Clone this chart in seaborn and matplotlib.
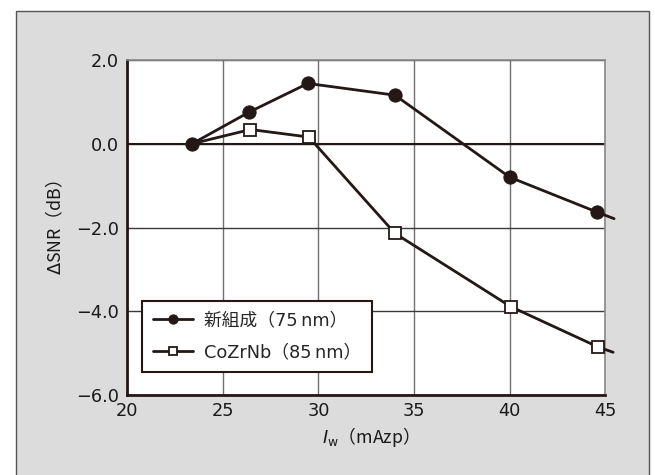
import numpy as np
import pandas as pd
import matplotlib
matplotlib.use('Agg')
import matplotlib.pyplot as plt
import seaborn as sns
from matplotlib.patches import Rectangle

sns.set_theme(style='white')
plt.rcParams['font.family'] = ['DejaVu Sans', 'Noto Sans CJK JP']
plt.rcParams['axes.unicode_minus'] = True
plt.rcParams['mathtext.fontset'] = 'dejavusans'

# data -----
iw_new = [23.4, 26.4, 29.45, 34.0, 40.0, 44.55]
snr_new = [0.0, 0.76, 1.44, 1.16, -0.80, -1.63]
iw_cozr = [23.4, 26.45, 29.5, 34.0, 40.05, 44.6]
snr_cozr = [0.0, 0.34, 0.16, -2.14, -3.89, -4.85]
# 線が軸の外まで少し伸びている部分
tail_new = (45.45, -1.79)
tail_cozr = (45.4, -4.98)

label_new = '新組成（75\u2009nm）'
label_cozr = 'CoZrNb（85\u2009nm）'

x_ticks = [20, 25, 30, 35, 40, 45]
y_ticks = [-6, -4, -2, 0, 2]
y_ticklabels = ['−6.0', '−4.0', '−2.0', '0.0', '2.0']

ink = '#231815'
fs = 12.8

df_new = pd.DataFrame({'Iw': iw_new + [tail_new[0]], 'dSNR': snr_new + [tail_new[1]]})
df_cozr = pd.DataFrame({'Iw': iw_cozr + [tail_cozr[0]], 'dSNR': snr_cozr + [tail_cozr[1]]})

fig = plt.figure(figsize=(6.55, 4.75), dpi=100)
fig.patch.set_facecolor('white')
fig.patches.append(Rectangle((0.024, -0.05), 0.9673, 1.0275, transform=fig.transFigure,
                             facecolor='#dcdcdc', edgecolor='#555555', lw=1.0, zorder=-10))
ax = fig.add_axes([0.1939, 0.1684, 0.7305, 0.7053])
ax.set_zorder(1)
ax.set_facecolor('white')

sns.lineplot(data=df_new, x='Iw', y='dSNR', ax=ax, color=ink, lw=2.0,
             marker='o', markersize=9.5, markeredgecolor=ink, markerfacecolor=ink,
             label=label_new, clip_on=False, zorder=4)
sns.lineplot(data=df_cozr, x='Iw', y='dSNR', ax=ax, color=ink, lw=2.0,
             marker='s', markersize=8.5, markeredgecolor=ink, markerfacecolor='white',
             markeredgewidth=1.3, label=label_cozr, clip_on=False, zorder=3)

# 延長点にはマーカーを付けない（CoZrNbの始点は新組成の●と重なる）
line_new, line_cozr = ax.get_lines()[:2]
line_new.set_markevery(list(range(len(iw_new))))
line_cozr.set_markevery(list(range(1, len(iw_cozr))))

ax.set_xlim(20, 45)
ax.set_ylim(-6, 2)
ax.set_xticks(x_ticks)
ax.set_yticks(y_ticks)
ax.set_yticklabels(y_ticklabels)
ax.tick_params(axis='both', length=0, labelsize=fs, colors='#1a1a1a')
ax.tick_params(axis='x', pad=5)
ax.tick_params(axis='y', pad=6)

ax.xaxis.grid(True, color='#707070', lw=1.0)
ax.yaxis.grid(True, color='#3a3a3a', lw=1.0)
ax.axhline(0, color=ink, lw=1.5, zorder=2)

for side in ['left', 'bottom']:
    ax.spines[side].set_color(ink)
    ax.spines[side].set_linewidth(2.0)
for side in ['top', 'right']:
    ax.spines[side].set_color('#8a8a8a')
    ax.spines[side].set_linewidth(1.2)

# ラベルはmathtextを使うのでCJKフォントを先頭に
ax.set_xlabel(r'$\mathit{I}_{\mathrm{w}}$（mAzp）', fontsize=fs, color='#1a1a1a',
              family='Noto Sans CJK JP')
ax.set_ylabel(r'$\mathit{\Delta}$SNR（dB）', fontsize=fs, color='#1a1a1a',
              family='Noto Sans CJK JP')
ax.xaxis.set_label_coords(0.5, -0.09)
ax.yaxis.set_label_coords(-0.13, 0.5)

leg = ax.legend(loc='lower left', bbox_to_anchor=(0.031, 0.068), borderaxespad=0,
                fontsize=fs, frameon=True, fancybox=False, framealpha=1,
                borderpad=0.6, labelspacing=0.8, handlelength=2.3, handletextpad=0.6,
                markerscale=0.7)
leg.get_frame().set_edgecolor(ink)
leg.get_frame().set_linewidth(1.5)
leg.set_zorder(5)

fig.savefig('out.png', dpi=100)
